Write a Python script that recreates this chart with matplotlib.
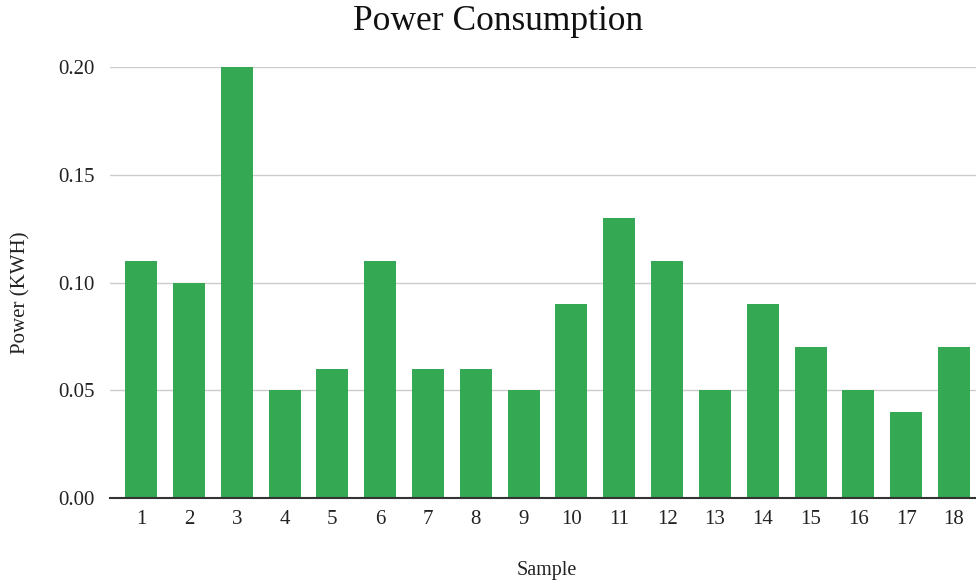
import matplotlib
matplotlib.use("Agg")
import matplotlib.pyplot as plt
from matplotlib.ticker import FormatStrFormatter

samples = [str(i) for i in range(1, 19)]
power = [0.11, 0.10, 0.20, 0.05, 0.06, 0.11, 0.06, 0.06, 0.05,
         0.09, 0.13, 0.11, 0.05, 0.09, 0.07, 0.05, 0.04, 0.07]
yticks = [0.00, 0.05, 0.10, 0.15, 0.20]

plt.rcParams['font.family'] = ['Liberation Serif', 'DejaVu Serif']

W, H = 976, 586
fig = plt.figure(figsize=(W/100, H/100), dpi=100)
ax = fig.add_axes([110/W, 1 - 498/H, (W - 110)/W, (498 - 67)/H])

x = list(range(len(samples)))
ax.bar(x, power, width=0.67, color='#34a853', zorder=3)

ax.set_xlim(-0.65, 17.46)
ax.set_ylim(0, 0.2)
ax.set_yticks(yticks)
ax.yaxis.set_major_formatter(FormatStrFormatter('%.2f'))
ax.set_xticks(x)
ax.set_xticklabels(samples)
ax.grid(axis='y', color='#cccccc', linewidth=1, zorder=0)
ax.set_axisbelow(True)

for s in ['top', 'right', 'left']:
    ax.spines[s].set_visible(False)
ax.spines['bottom'].set_color('#333333')
ax.spines['bottom'].set_linewidth(1.5)
ax.spines['bottom'].set_zorder(4)
ax.tick_params(axis='both', length=0, labelsize=15, colors='#222222')
ax.tick_params(axis='x', pad=9)
ax.tick_params(axis='y', pad=11)

fig.text(498/W, 1 - 30/H, 'Power Consumption', fontsize=25.5,
         ha='center', va='baseline', color='#111111')
fig.text(547/W, 1 - 570/H, 'Sample', fontsize=14.5,
         ha='center', va='center', color='#222222')
fig.text(21/W, 1 - 293/H, 'Power (KWH)', fontsize=15, rotation=90,
         ha='center', va='center', color='#222222')

fig.savefig('out.png', dpi=100)
